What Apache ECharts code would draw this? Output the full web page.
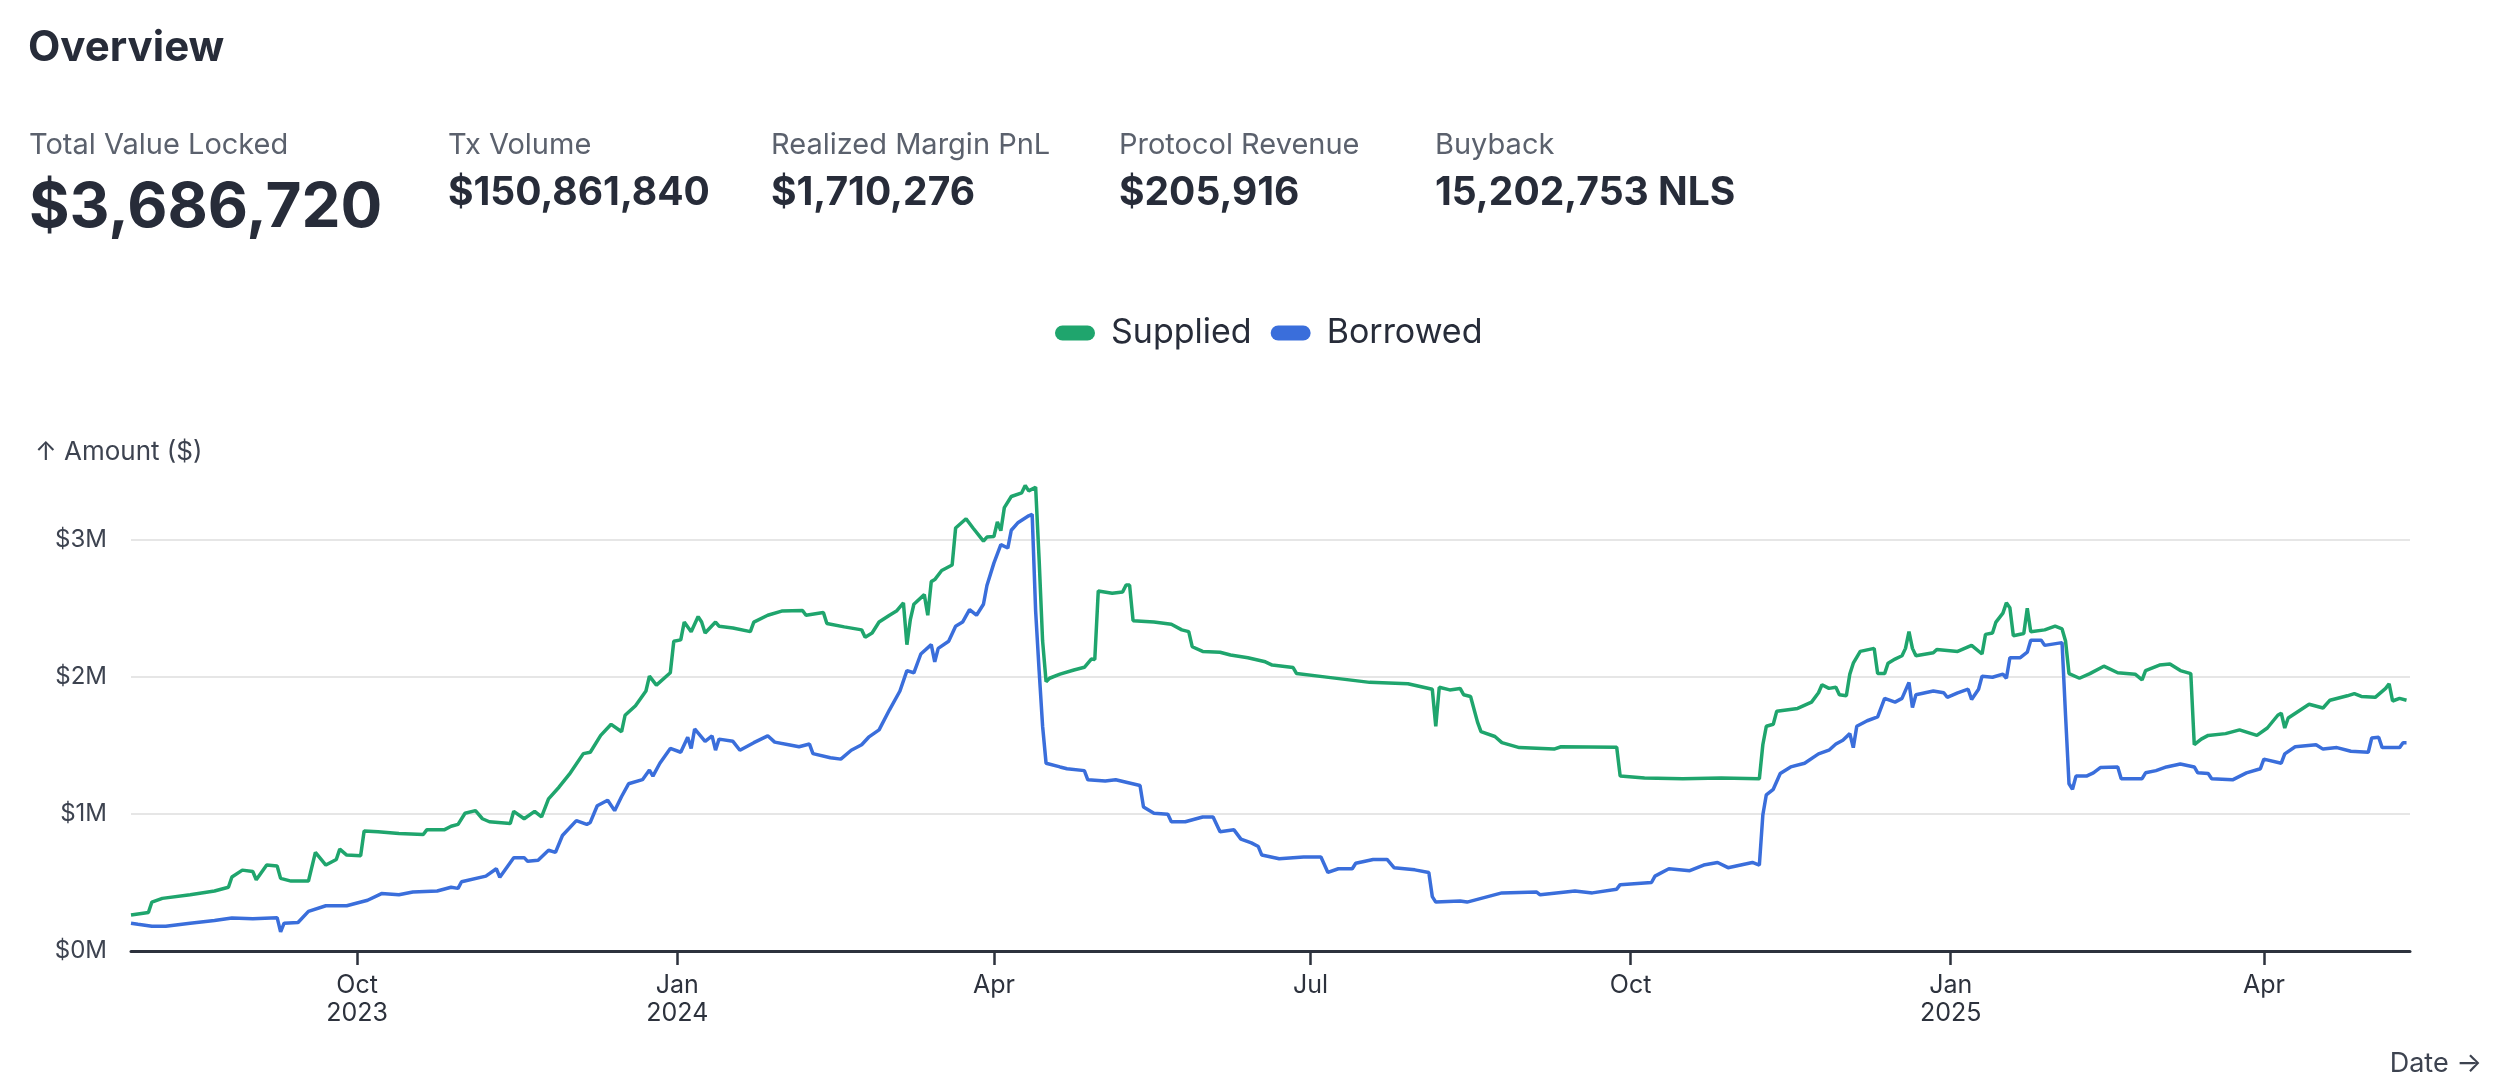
<!DOCTYPE html>
<html>
<head>
  <meta charset="utf-8">
  <title>Overview</title>
  <script src="https://cdn.jsdelivr.net/npm/echarts@6/dist/echarts.min.js"></script>
  <style>
    html, body { margin: 0; padding: 0; background: #fff; }
    #main { width: 2495px; height: 1092px; }
  </style>
</head>
<body>
  <div id="main"></div>
  <script>
    // stat cards across the top
    var statLabels = ['Total Value Locked', 'Tx Volume', 'Realized Margin PnL', 'Protocol Revenue', 'Buyback'];
    var statValues = ['$3,686,720', '$150,861,840', '$1,710,276', '$205,916', '15,202,753 NLS'];

    // supplied, in $M
    var suppliedDates = [
      '2023-07-28','2023-08-02','2023-08-03','2023-08-06','2023-08-14','2023-08-21','2023-08-25','2023-08-26','2023-08-29','2023-09-01',
      '2023-09-02','2023-09-05','2023-09-08','2023-09-09','2023-09-12','2023-09-17','2023-09-19','2023-09-22','2023-09-25','2023-09-26',
      '2023-09-28','2023-10-02','2023-10-03','2023-10-07','2023-10-13','2023-10-20','2023-10-21','2023-10-26','2023-10-28','2023-10-30',
      '2023-11-01','2023-11-04','2023-11-06','2023-11-08','2023-11-14','2023-11-15','2023-11-18','2023-11-21','2023-11-23','2023-11-25',
      '2023-11-28','2023-12-01','2023-12-05','2023-12-07','2023-12-10','2023-12-13','2023-12-16','2023-12-17','2023-12-20','2023-12-23',
      '2023-12-24','2023-12-26','2023-12-30','2023-12-31','2024-01-02','2024-01-03','2024-01-05','2024-01-07','2024-01-08','2024-01-09',
      '2024-01-12','2024-01-13','2024-01-17','2024-01-22','2024-01-23','2024-01-27','2024-01-31','2024-02-06','2024-02-07','2024-02-12',
      '2024-02-13','2024-02-18','2024-02-23','2024-02-24','2024-02-26','2024-02-28','2024-03-02','2024-03-04','2024-03-06','2024-03-07',
      '2024-03-08','2024-03-09','2024-03-12','2024-03-13','2024-03-14','2024-03-15','2024-03-17','2024-03-20','2024-03-21','2024-03-24',
      '2024-03-26','2024-03-29','2024-03-30','2024-04-01','2024-04-02','2024-04-03','2024-04-04','2024-04-06','2024-04-09','2024-04-10',
      '2024-04-11','2024-04-13','2024-04-14','2024-04-15','2024-04-16','2024-04-17','2024-04-20','2024-04-24','2024-04-27','2024-04-29',
      '2024-04-30','2024-05-01','2024-05-05','2024-05-08','2024-05-09','2024-05-10','2024-05-11','2024-05-17','2024-05-22','2024-05-25',
      '2024-05-27','2024-05-28','2024-05-31','2024-06-05','2024-06-08','2024-06-13','2024-06-18','2024-06-20','2024-06-26','2024-06-27',
      '2024-07-05','2024-07-18','2024-07-29','2024-08-05','2024-08-06','2024-08-07','2024-08-10','2024-08-13','2024-08-14','2024-08-16',
      '2024-08-18','2024-08-19','2024-08-23','2024-08-25','2024-08-30','2024-09-09','2024-09-11','2024-09-27','2024-09-28','2024-10-05',
      '2024-10-16','2024-10-27','2024-11-07','2024-11-08','2024-11-09','2024-11-11','2024-11-12','2024-11-18','2024-11-22','2024-11-24',
      '2024-11-25','2024-11-27','2024-11-29','2024-11-30','2024-12-02','2024-12-03','2024-12-04','2024-12-06','2024-12-10','2024-12-11',
      '2024-12-13','2024-12-14','2024-12-16','2024-12-18','2024-12-19','2024-12-20','2024-12-21','2024-12-22','2024-12-27','2024-12-28',
      '2025-01-03','2025-01-07','2025-01-10','2025-01-11','2025-01-13','2025-01-14','2025-01-16','2025-01-17','2025-01-18','2025-01-19',
      '2025-01-22','2025-01-23','2025-01-24','2025-01-28','2025-01-31','2025-02-02','2025-02-03','2025-02-04','2025-02-07','2025-02-10',
      '2025-02-14','2025-02-18','2025-02-23','2025-02-25','2025-02-26','2025-03-02','2025-03-05','2025-03-08','2025-03-11','2025-03-12',
      '2025-03-14','2025-03-16','2025-03-21','2025-03-25','2025-03-30','2025-04-02','2025-04-05','2025-04-06','2025-04-07','2025-04-08',
      '2025-04-14','2025-04-18','2025-04-20','2025-04-25','2025-04-27','2025-04-29','2025-05-03','2025-05-06','2025-05-07','2025-05-08',
      '2025-05-10','2025-05-12'
    ];
    var suppliedM = [
      0.262,0.281,0.357,0.384,0.410,0.438,0.465,0.540,0.590,0.580,
      0.520,0.627,0.620,0.530,0.510,0.510,0.720,0.627,0.668,0.743,
      0.700,0.695,0.876,0.870,0.857,0.850,0.884,0.884,0.910,0.924,
      1.005,1.024,0.965,0.943,0.930,1.019,0.965,1.019,0.978,1.110,
      1.195,1.290,1.440,1.450,1.573,1.654,1.600,1.720,1.790,1.897,
      2.005,1.940,2.030,2.260,2.270,2.400,2.330,2.440,2.400,2.320,
      2.400,2.370,2.357,2.330,2.400,2.450,2.480,2.484,2.450,2.470,
      2.390,2.365,2.343,2.290,2.320,2.400,2.450,2.480,2.540,2.235,
      2.420,2.530,2.600,2.450,2.695,2.710,2.776,2.816,3.086,3.154,
      3.086,2.990,3.020,3.024,3.130,3.067,3.235,3.316,3.343,3.397,
      3.357,3.384,2.857,2.262,1.965,1.990,2.020,2.050,2.070,2.130,
      2.127,2.627,2.610,2.620,2.670,2.670,2.410,2.400,2.384,2.343,
      2.330,2.220,2.186,2.180,2.160,2.140,2.110,2.086,2.068,2.024,
      2.000,1.960,1.950,1.910,1.640,1.924,1.905,1.916,1.870,1.857,
      1.670,1.600,1.565,1.520,1.484,1.473,1.490,1.486,1.276,1.262,
      1.257,1.262,1.257,1.505,1.640,1.654,1.750,1.770,1.816,1.884,
      1.943,1.916,1.924,1.870,1.862,2.020,2.100,2.186,2.208,2.024,
      2.024,2.100,2.130,2.154,2.208,2.330,2.208,2.154,2.176,2.200,
      2.186,2.230,2.167,2.310,2.320,2.400,2.465,2.540,2.505,2.300,
      2.316,2.500,2.330,2.343,2.370,2.350,2.262,2.024,1.990,2.024,
      2.078,2.030,2.020,1.978,2.046,2.086,2.094,2.046,2.024,1.505,
      1.546,1.573,1.586,1.613,1.573,1.627,1.720,1.735,1.627,1.700,
      1.800,1.773,1.830,1.862,1.878,1.857,1.851,1.916,1.950,1.824,
      1.843,1.830
    ];

    // borrowed, in $M
    var borrowedDates = [
      '2023-07-28','2023-07-30','2023-08-03','2023-08-07','2023-08-14','2023-08-21','2023-08-26','2023-09-01','2023-09-08','2023-09-09',
      '2023-09-10','2023-09-14','2023-09-17','2023-09-22','2023-09-28','2023-10-04','2023-10-08','2023-10-13','2023-10-17','2023-10-24',
      '2023-10-28','2023-10-30','2023-10-31','2023-11-07','2023-11-10','2023-11-11','2023-11-15','2023-11-18','2023-11-19','2023-11-22',
      '2023-11-25','2023-11-27','2023-11-29','2023-12-03','2023-12-06','2023-12-07','2023-12-09','2023-12-12','2023-12-14','2023-12-16',
      '2023-12-18','2023-12-22','2023-12-24','2023-12-25','2023-12-27','2023-12-30','2024-01-02','2024-01-04','2024-01-05','2024-01-06',
      '2024-01-09','2024-01-11','2024-01-12','2024-01-13','2024-01-17','2024-01-19','2024-01-23','2024-01-27','2024-01-29','2024-02-02',
      '2024-02-05','2024-02-08','2024-02-09','2024-02-14','2024-02-17','2024-02-20','2024-02-23','2024-02-25','2024-02-28','2024-03-02',
      '2024-03-05','2024-03-07','2024-03-09','2024-03-11','2024-03-14','2024-03-15','2024-03-16','2024-03-19','2024-03-21','2024-03-23',
      '2024-03-25','2024-03-27','2024-03-29','2024-03-30','2024-04-01','2024-04-03','2024-04-05','2024-04-06','2024-04-08','2024-04-11',
      '2024-04-12','2024-04-13','2024-04-14','2024-04-15','2024-04-16','2024-04-20','2024-04-22','2024-04-27','2024-04-28','2024-05-03',
      '2024-05-06','2024-05-13','2024-05-14','2024-05-17','2024-05-21','2024-05-22','2024-05-26','2024-05-31','2024-06-03','2024-06-05',
      '2024-06-09','2024-06-11','2024-06-14','2024-06-16','2024-06-17','2024-06-18','2024-06-22','2024-06-29','2024-07-04','2024-07-06',
      '2024-07-09','2024-07-13','2024-07-14','2024-07-19','2024-07-23','2024-07-25','2024-07-31','2024-08-04','2024-08-05','2024-08-06',
      '2024-08-13','2024-08-15','2024-08-25','2024-09-04','2024-09-05','2024-09-15','2024-09-20','2024-09-27','2024-09-28','2024-10-07',
      '2024-10-08','2024-10-12','2024-10-18','2024-10-22','2024-10-26','2024-10-29','2024-11-05','2024-11-07','2024-11-08','2024-11-09',
      '2024-11-11','2024-11-13','2024-11-16','2024-11-20','2024-11-24','2024-11-27','2024-11-29','2024-12-01','2024-12-03','2024-12-04',
      '2024-12-05','2024-12-08','2024-12-11','2024-12-13','2024-12-16','2024-12-18','2024-12-20','2024-12-21','2024-12-22','2024-12-27',
      '2024-12-30','2024-12-31','2025-01-03','2025-01-06','2025-01-07','2025-01-09','2025-01-10','2025-01-13','2025-01-16','2025-01-17',
      '2025-01-18','2025-01-21','2025-01-23','2025-01-24','2025-01-27','2025-01-28','2025-02-02','2025-02-03','2025-02-04','2025-02-05',
      '2025-02-06','2025-02-09','2025-02-11','2025-02-13','2025-02-18','2025-02-19','2025-02-25','2025-02-26','2025-03-01','2025-03-04',
      '2025-03-08','2025-03-12','2025-03-13','2025-03-16','2025-03-17','2025-03-23','2025-03-27','2025-03-31','2025-04-01','2025-04-06',
      '2025-04-07','2025-04-10','2025-04-16','2025-04-18','2025-04-22','2025-04-26','2025-05-01','2025-05-02','2025-05-04','2025-05-05',
      '2025-05-10','2025-05-11','2025-05-12'
    ];
    var borrowedM = [
      0.203,0.195,0.181,0.181,0.203,0.222,0.240,0.235,0.243,0.140,
      0.203,0.208,0.289,0.330,0.330,0.370,0.419,0.410,0.430,0.438,
      0.465,0.457,0.505,0.546,0.600,0.538,0.681,0.681,0.654,0.662,
      0.735,0.720,0.843,0.951,0.924,0.938,1.060,1.100,1.024,1.127,
      1.220,1.250,1.320,1.276,1.370,1.478,1.450,1.560,1.478,1.620,
      1.530,1.570,1.465,1.546,1.530,1.465,1.520,1.570,1.524,1.505,
      1.490,1.510,1.440,1.410,1.400,1.465,1.505,1.560,1.613,1.760,
      1.897,2.046,2.030,2.167,2.235,2.110,2.208,2.260,2.370,2.400,
      2.490,2.450,2.530,2.667,2.830,2.965,2.940,3.070,3.127,3.175,
      3.186,2.480,2.046,1.640,1.370,1.343,1.330,1.316,1.249,1.240,
      1.249,1.208,1.050,1.005,0.997,0.943,0.943,0.978,0.978,0.870,
      0.884,0.816,0.789,0.762,0.700,0.695,0.673,0.686,0.686,0.573,
      0.600,0.600,0.640,0.668,0.668,0.608,0.592,0.573,0.397,0.357,
      0.365,0.357,0.424,0.430,0.410,0.438,0.424,0.451,0.484,0.500,
      0.546,0.600,0.586,0.627,0.646,0.608,0.646,0.627,0.992,1.140,
      1.180,1.295,1.343,1.370,1.438,1.465,1.510,1.538,1.586,1.484,
      1.640,1.680,1.708,1.843,1.816,1.843,1.960,1.776,1.870,1.897,
      1.884,1.851,1.884,1.910,1.835,1.910,2.005,1.997,2.020,1.990,
      2.140,2.140,2.180,2.268,2.268,2.230,2.250,1.720,1.220,1.180,
      1.276,1.276,1.300,1.338,1.343,1.257,1.257,1.300,1.316,1.343,
      1.365,1.343,1.300,1.295,1.257,1.249,1.300,1.330,1.400,1.370,
      1.438,1.490,1.505,1.473,1.484,1.457,1.450,1.554,1.560,1.484,
      1.484,1.519,1.519
    ];

    var yTicks = [0, 1000000, 2000000, 3000000];
    var monthNames = ['Jan','Feb','Mar','Apr','May','Jun','Jul','Aug','Sep','Oct','Nov','Dec'];

    var FONT = 'Inter, "Noto Sans", sans-serif';
    var DARK = '#272c39';
    var GREY = '#5b616d';
    var DAY = 24 * 3600 * 1000;
    var xMin = +new Date('2023-07-28T00:00:00');
    var xMax = +new Date('2025-05-13T00:00:00');

    var chart = echarts.init(document.getElementById('main'));

    // header texts (title + stat cards)
    var statX = [29, 448, 771, 1119, 1435];
    var graphics = [
      { type: 'text', x: 28, y: 48, style: { text: 'Overview', font: 'bold 42px ' + FONT, fill: DARK, textVerticalAlign: 'middle' } },
      { type: 'text', x: 35, y: 452, style: { text: '↑ Amount ($)', font: '26px ' + FONT, fill: '#3d4350', textVerticalAlign: 'middle' } },
      { type: 'text', x: 2482, y: 1064, style: { text: 'Date →', font: '27px ' + FONT, fill: '#3d4350', textAlign: 'right', textVerticalAlign: 'middle' } }
    ];
    statLabels.forEach(function (lab, i) {
      graphics.push({ type: 'text', x: statX[i], y: 145,
        style: { text: lab, font: '29px ' + FONT, fill: GREY, textVerticalAlign: 'middle' } });
      graphics.push({ type: 'text', x: statX[i], y: i === 0 ? 208 : 193,
        style: { text: statValues[i], font: 'bold ' + (i === 0 ? 62 : 39) + 'px ' + FONT, fill: DARK, textVerticalAlign: 'middle' } });
    });

    var pill = 'path://M7.5,0 L32.5,0 A7.5,7.5 0 0 1 32.5,15 L7.5,15 A7.5,7.5 0 0 1 7.5,0 Z';

    option = {
      animation: false,
      backgroundColor: '#fff',
      textStyle: { fontFamily: FONT },
      graphic: graphics,
      legend: {
        left: 1050,
        top: 311,
        itemWidth: 40,
        itemHeight: 15,
        itemGap: 19,
        textStyle: { fontSize: 34, color: DARK, padding: [0, 0, 0, 11] },
        data: [
          { name: 'Supplied', icon: pill },
          { name: 'Borrowed', icon: pill }
        ]
      },
      grid: { left: 131, right: 85, top: 485, bottom: 141 },
      xAxis: {
        type: 'time',
        min: xMin,
        max: xMax,
        minInterval: 88 * DAY,
        maxInterval: 95 * DAY,
        axisLine: { lineStyle: { color: '#2d323d', width: 3 } },
        axisTick: { show: true, length: 14, lineStyle: { color: '#2d323d', width: 2.5 } },
        splitLine: { show: false },
        axisLabel: {
          fontSize: 25,
          color: '#2d323d',
          lineHeight: 28,
          margin: 20,
          hideOverlap: false,
          formatter: function (value) {
            var d = new Date(value);
            var m = monthNames[d.getMonth()];
            if (d.getMonth() === 0 || value - 95 * DAY < xMin) return m + '\n' + d.getFullYear();
            return m;
          }
        }
      },
      yAxis: {
        type: 'value',
        min: 0,
        max: 3400000,
        interval: 1000000,
        axisLine: { show: false },
        axisTick: { show: false },
        splitLine: { show: true, showMinLine: false, showMaxLine: false, lineStyle: { color: '#e6e6e6', width: 2 } },
        axisLabel: {
          fontSize: 24,
          color: '#3d4350',
          margin: 24,
          showMaxLabel: false,
          formatter: function (v) {
            if (yTicks.indexOf(v) < 0) return '';
            return '$' + (v / 1000000) + 'M';
          }
        }
      },
      series: [
        {
          name: 'Supplied',
          type: 'line',
          showSymbol: false,
          symbol: 'none',
          color: '#1fa56d',
          lineStyle: { width: 3.5, color: '#1fa56d' },
          data: suppliedDates.map(function (d, i) { return [d, suppliedM[i] * 1000000]; })
        },
        {
          name: 'Borrowed',
          type: 'line',
          showSymbol: false,
          symbol: 'none',
          color: '#3a6edb',
          lineStyle: { width: 3.5, color: '#3a6edb' },
          data: borrowedDates.map(function (d, i) { return [d, borrowedM[i] * 1000000]; })
        }
      ]
    };

    chart.setOption(option);
  </script>
</body>
</html>
